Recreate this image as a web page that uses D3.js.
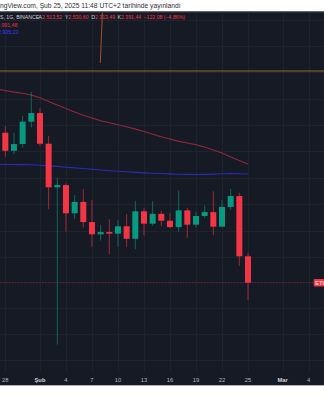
<!DOCTYPE html>
<html>
<head>
<meta charset="utf-8">
<script src="https://cdn.jsdelivr.net/npm/d3@7"></script>
<style>
  html, body { margin: 0; padding: 0; background: #ffffff; }
  svg { display: block; font-family: "Liberation Sans", Arial, sans-serif; }
</style>
</head>
<body>
<svg id="chart" width="324" height="400"></svg>
<script>
// ETH/USDT daily candles, 28 Jan – 25 Feb 2025
const dates = ["2025-01-28","2025-01-29","2025-01-30","2025-01-31","2025-02-01","2025-02-02","2025-02-03",
  "2025-02-04","2025-02-05","2025-02-06","2025-02-07","2025-02-08","2025-02-09","2025-02-10","2025-02-11",
  "2025-02-12","2025-02-13","2025-02-14","2025-02-15","2025-02-16","2025-02-17","2025-02-18","2025-02-19",
  "2025-02-20","2025-02-21","2025-02-22","2025-02-23","2025-02-24","2025-02-25"];
const open  = [3173, 3067, 3106, 3240, 3293, 3108, 2863, 2875, 2726, 2785, 2681, 2620, 2631, 2623, 2660,
  2598, 2736, 2673, 2723, 2688, 2656, 2741, 2668, 2712, 2732, 2658, 2759, 2816, 2513.52];
const high  = [3214, 3173, 3275, 3428, 3323, 3154, 2915, 2884, 2821, 2854, 2795, 2666, 2695, 2692, 2722,
  2791, 2755, 2790, 2738, 2726, 2845, 2753, 2734, 2767, 2841, 2795, 2854, 2834, 2530.60];
const low   = [3033, 3047, 3085, 3206, 3096, 2748, 2128, 2633, 2697, 2654, 2559, 2589, 2523, 2559, 2559,
  2547, 2613, 2663, 2661, 2651, 2633, 2603, 2653, 2703, 2615, 2655, 2743, 2469, 2313.49];
const close = [3067, 3106, 3240, 3293, 3108, 2863, 2875, 2726, 2785, 2681, 2620, 2631, 2623, 2660, 2598,
  2736, 2673, 2723, 2688, 2656, 2741, 2668, 2712, 2732, 2658, 2759, 2816, 2513.52, 2391.44];

// Moving averages (27 Jan – 25 Feb)
const maDates = ["2025-01-27"].concat(dates);
const maSlow = [3446, 3436, 3426, 3418, 3407, 3389, 3366, 3343, 3321, 3300, 3280, 3263, 3246, 3233, 3221,
  3209, 3195, 3181, 3164, 3149, 3136, 3122, 3112, 3102, 3089, 3072, 3054, 3031, 3011, 2991.48];
const maFast = [2989, 2989, 2988.5, 2988, 2987, 2984, 2981, 2978, 2973.5, 2969.5, 2966, 2962, 2958, 2954, 2951,
  2948, 2944.5, 2942, 2939.5, 2938, 2936, 2934.5, 2933.5, 2933, 2933.5, 2935, 2937, 2938.5, 2937, 2935.23];

// Drawings: horizontal level and a trend line
const levelPrice = [3565];
const trendDates = ["2025-02-07T23:00:00Z", "2025-02-08T05:00:00Z"];
const trendPrices = [3619, 3990];

// Time axis
const tickDates = ["2025-01-28","2025-02-01","2025-02-04","2025-02-07","2025-02-10","2025-02-13",
  "2025-02-16","2025-02-19","2025-02-22","2025-02-25","2025-03-01","2025-03-04"];
const tickLabels = ["28","Şub","4","7","10","13","16","19","22","25","Mar","4"];

// Horizontal grid levels (log price scale)
const gridPrices = [1967, 2066, 2170, 2279, 2393, 2508, 2636, 2774, 2915, 3063, 3219, 3383, 3555, 3736, 3926];

// Legend text
const titleText = "TradingView.com, Şub 25, 2025 11:48 UTC+2 tarihinde yayınlandı";
const symbolText = "Ethereum / TetherUS, 1G, BINANCE";
const ohlcKeys = ["A", "Y", "D", "K"];
const ohlcVals = ["2.513,52", "2.530,60", "2.313,49", "2.391,44"];
const changeText = "−122,08 (−4,86%)";
const maLabels = ["2.991,48", "2.935,23"];
const symbolTag = "ETHUSDT";

const W = 324, H = 400;
const panelTop = 11.5, panelBottom = 385, plotBottom = 372;
const BG = "#161a25", GRID = "#1f232e", UP = "#089981", DOWN = "#f23645";

const parse = d => new Date(d.length > 10 ? d : d + "T00:00:00Z");
const svg = d3.select("#chart");

const x = d3.scaleUtc()
  .domain([parse(dates[0]), parse(dates[dates.length - 1])])
  .range([5.3, 248]);
const y = d3.scaleLog()
  .domain([1971.8, 3992.1])
  .range([385, 11]);

// page + panel
svg.append("rect").attr("width", W).attr("height", H).attr("fill", "#ffffff");
svg.append("rect").attr("x", 0).attr("y", panelTop).attr("width", W).attr("height", panelBottom - panelTop).attr("fill", BG);
svg.append("line").attr("x1", 0).attr("x2", W).attr("y1", panelTop + 0.5).attr("y2", panelTop + 0.5)
  .attr("stroke", "#3a3e4a").attr("stroke-width", 1);
svg.append("line").attr("x1", 0).attr("x2", W).attr("y1", panelBottom + 0.5).attr("y2", panelBottom + 0.5)
  .attr("stroke", "#b2b5be").attr("stroke-width", 1);

const defs = svg.append("defs");
defs.append("clipPath").attr("id", "plot").append("rect")
  .attr("x", 0).attr("y", panelTop + 1).attr("width", W).attr("height", plotBottom - panelTop - 1);

const plot = svg.append("g").attr("clip-path", "url(#plot)");

// grid
plot.append("g").selectAll("line").data(tickDates).join("line")
  .attr("x1", d => Math.round(x(parse(d))) + 0.5).attr("x2", d => Math.round(x(parse(d))) + 0.5)
  .attr("y1", panelTop).attr("y2", plotBottom + 3)
  .attr("stroke", GRID).attr("stroke-width", 1);
plot.append("g").selectAll("line").data(gridPrices).join("line")
  .attr("x1", 0).attr("x2", W)
  .attr("y1", d => Math.round(y(d)) + 0.5).attr("y2", d => Math.round(y(d)) + 0.5)
  .attr("stroke", GRID).attr("stroke-width", 1);

// horizontal level drawing
plot.append("g").selectAll("line").data(levelPrice).join("line")
  .attr("x1", 0).attr("x2", W).attr("y1", d => y(d)).attr("y2", d => y(d))
  .attr("stroke", "#8a6a30").attr("stroke-width", 1);

// trend line, extended upward past the panel edge
{
  const x0 = x(parse(trendDates[0])), y0 = y(trendPrices[0]);
  const x1 = x(parse(trendDates[1])), y1 = y(trendPrices[1]);
  const t = (y0 - (panelTop - 5)) / (y0 - y1);
  plot.append("line")
    .attr("x1", x0).attr("y1", y0)
    .attr("x2", x0 + (x1 - x0) * t).attr("y2", panelTop - 5)
    .attr("stroke", "#a0521e").attr("stroke-width", 1);
}

// moving averages
const maLine = vals => d3.line()
  .x((d, i) => x(parse(maDates[i])))
  .y(d => y(d))(vals);
plot.append("path").attr("d", maLine(maSlow)).attr("fill", "none")
  .attr("stroke", "#8e2a3a").attr("stroke-width", 1.1);
plot.append("path").attr("d", maLine(maFast)).attr("fill", "none")
  .attr("stroke", "#2b2bb8").attr("stroke-width", 1.1);

// last close price line
plot.append("line")
  .attr("x1", 0).attr("x2", W)
  .attr("y1", y(close[close.length - 1])).attr("y2", y(close[close.length - 1]))
  .attr("stroke", DOWN).attr("stroke-opacity", 0.35).attr("stroke-width", 1)
  .attr("stroke-dasharray", "1.5,1.5");

// candles
const candles = dates.map((d, i) => ({ t: parse(d), o: open[i], h: high[i], l: low[i], c: close[i] }));
const cw = 6;
const cg = plot.append("g");
cg.selectAll("line").data(candles).join("line")
  .attr("x1", d => x(d.t)).attr("x2", d => x(d.t))
  .attr("y1", d => y(d.h)).attr("y2", d => y(d.l))
  .attr("stroke", d => d.c >= d.o ? UP : DOWN)
  .attr("stroke-opacity", 0.6).attr("stroke-width", 1);
cg.selectAll("rect").data(candles).join("rect")
  .attr("x", d => x(d.t) - cw / 2)
  .attr("width", cw)
  .attr("y", d => y(Math.max(d.o, d.c)))
  .attr("height", d => Math.max(1, Math.abs(y(d.o) - y(d.c))))
  .attr("fill", d => d.c >= d.o ? UP : DOWN);

// symbol tag on the right at the last close
{
  const cy = y(close[close.length - 1]);
  svg.append("rect").attr("x", 313.7).attr("y", cy - 3.8).attr("width", 20).attr("height", 7.6)
    .attr("rx", 1).attr("fill", DOWN);
  svg.append("text").attr("x", 315.3).attr("y", cy + 2.1)
    .attr("font-size", 5.6).attr("fill", "#ffffff").text(symbolTag);
}

// time axis labels
svg.append("g").selectAll("text").data(tickDates).join("text")
  .attr("x", d => x(parse(d))).attr("y", 382)
  .attr("text-anchor", "middle").attr("font-size", 5.8)
  .attr("fill", (d, i) => /[A-Za-zŞ]/.test(tickLabels[i]) ? "#d1d4dc" : "#b2b5be")
  .attr("font-weight", (d, i) => /[A-Za-zŞ]/.test(tickLabels[i]) ? "bold" : "normal")
  .text((d, i) => tickLabels[i]);

// width of a text prefix at a given size, used to let a line run off the left edge
function prefixWidth(str, fs) {
  const probe = svg.append("text").attr("font-size", fs).text(str);
  const w = probe.node().getComputedTextLength();
  probe.remove();
  return w;
}

// top publish line
{
  const fs = 6.7;
  svg.append("text").attr("x", -prefixWidth("Tradi", fs)).attr("y", 8.4).attr("font-size", fs)
    .attr("fill", "#2a2e39").text(titleText);
}

// legend rows: symbol + OHLC, then moving-average values
{
  const fs = 5.2;
  svg.append("text").attr("x", -prefixWidth("Ethereum / TetherU", fs)).attr("y", 18.9).attr("font-size", fs)
    .attr("fill", "#d1d4dc").text(symbolText);
  const row = svg.append("g").attr("font-size", fs);
  ohlcKeys.forEach((k, i) => {
    const t = row.append("text").attr("x", 38.6 + i * 26.3).attr("y", 18.9);
    t.append("tspan").attr("fill", "#d1d4dc").text(k);
    t.append("tspan").attr("fill", DOWN).text(ohlcVals[i]);
  });
  row.append("text").attr("x", 143.5).attr("y", 18.9).attr("fill", DOWN).text(changeText);

  svg.append("text").attr("x", -prefixWidth("2.", fs) + 1.4).attr("y", 26.5).attr("font-size", fs)
    .attr("fill", "#e0303e").text(maLabels[0]);
  svg.append("text").attr("x", -1.8).attr("y", 33.9).attr("font-size", fs)
    .attr("fill", "#3a3aff").text(maLabels[1]);
}
</script>
</body>
</html>
